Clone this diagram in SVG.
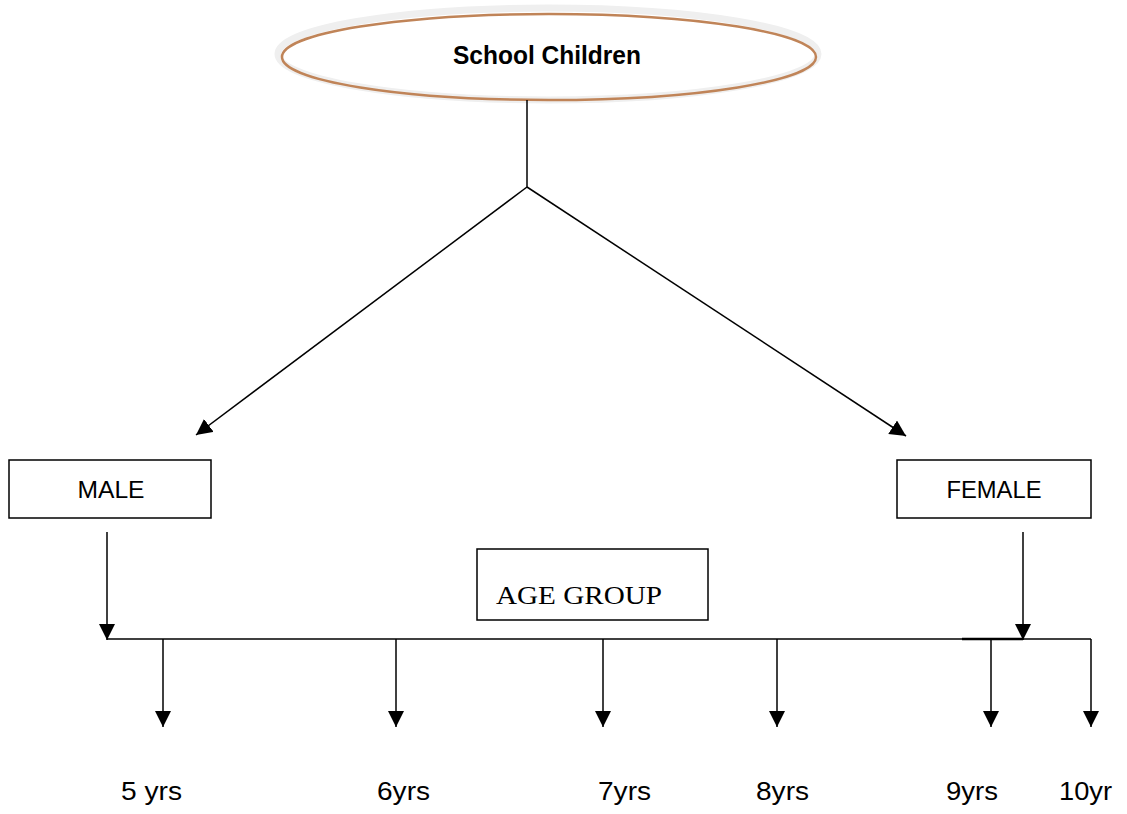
<svg xmlns="http://www.w3.org/2000/svg" width="1127" height="814" viewBox="0 0 1127 814">
<style>
.box{fill:#fff;stroke:#000;stroke-width:1.5}
.lbl{font-family:"Liberation Sans",Arial,sans-serif;font-size:24px;fill:#000}
.conn{stroke:#000;stroke-width:1.5;fill:none}
</style>
<defs>
<marker id="ah" markerUnits="userSpaceOnUse" markerWidth="16" markerHeight="18" viewBox="0 0 16 18" refX="16" refY="8" orient="auto">
<path d="M0,0 L16,8 L0,16 Z" fill="#000"/>
</marker>
</defs>
<rect width="1127" height="814" fill="#fff"/>
<g id="school-children">
<ellipse cx="548" cy="54" rx="270" ry="46" fill="none" stroke="#efefef" stroke-width="7"/>
<ellipse cx="549" cy="57" rx="267" ry="43" fill="none" stroke="#c08458" stroke-width="2.5"/>
<text x="547" y="64" text-anchor="middle" font-family="'Liberation Sans',Arial,sans-serif" font-weight="bold" font-size="25" textLength="188" lengthAdjust="spacingAndGlyphs">School Children</text>
</g>
<g id="male">
<rect class="box" x="9" y="460" width="202" height="58"/>
<text class="lbl" x="111" y="498" text-anchor="middle" textLength="67" lengthAdjust="spacingAndGlyphs">MALE</text>
</g>
<g id="female">
<rect class="box" x="897" y="460" width="194" height="58"/>
<text class="lbl" x="994" y="498" text-anchor="middle" textLength="95" lengthAdjust="spacingAndGlyphs">FEMALE</text>
</g>
<g id="age-group">
<rect class="box" x="477" y="549" width="231" height="71"/>
<text x="496" y="604" font-family="'Liberation Serif','Times New Roman',serif" font-size="25" textLength="166" lengthAdjust="spacingAndGlyphs">AGE GROUP</text>
</g>
<g id="ages" class="lbl" style="font-size:26px">
<text x="121" y="800" textLength="61" lengthAdjust="spacingAndGlyphs">5 yrs</text>
<text x="377" y="800" textLength="53" lengthAdjust="spacingAndGlyphs">6yrs</text>
<text x="598" y="800" textLength="53" lengthAdjust="spacingAndGlyphs">7yrs</text>
<text x="756" y="800" textLength="53" lengthAdjust="spacingAndGlyphs">8yrs</text>
<text x="946" y="800" textLength="52" lengthAdjust="spacingAndGlyphs">9yrs</text>
<text x="1059" y="800" textLength="53" lengthAdjust="spacingAndGlyphs">10yr</text>
</g>
<g id="connectors">
<line class="conn" x1="527" y1="100" x2="527" y2="187"/>
<line class="conn" x1="527" y1="187" x2="196" y2="435" marker-end="url(#ah)"/>
<line class="conn" x1="527" y1="187" x2="906" y2="436" marker-end="url(#ah)"/>
<line class="conn" x1="107" y1="532" x2="107" y2="640" marker-end="url(#ah)"/>
<line class="conn" x1="1023" y1="532" x2="1023" y2="640" marker-end="url(#ah)"/>
<line class="conn" x1="107" y1="639" x2="1091" y2="639"/>
<line x1="962" y1="639" x2="1023" y2="639" stroke="#000" stroke-width="2.5"/>
<line class="conn" x1="163" y1="639" x2="163" y2="727" marker-end="url(#ah)"/>
<line class="conn" x1="396" y1="639" x2="396" y2="727" marker-end="url(#ah)"/>
<line class="conn" x1="603" y1="639" x2="603" y2="727" marker-end="url(#ah)"/>
<line class="conn" x1="777" y1="639" x2="777" y2="727" marker-end="url(#ah)"/>
<line class="conn" x1="991" y1="639" x2="991" y2="727" marker-end="url(#ah)"/>
<line class="conn" x1="1091" y1="639" x2="1091" y2="727" marker-end="url(#ah)"/>
</g>
</svg>
